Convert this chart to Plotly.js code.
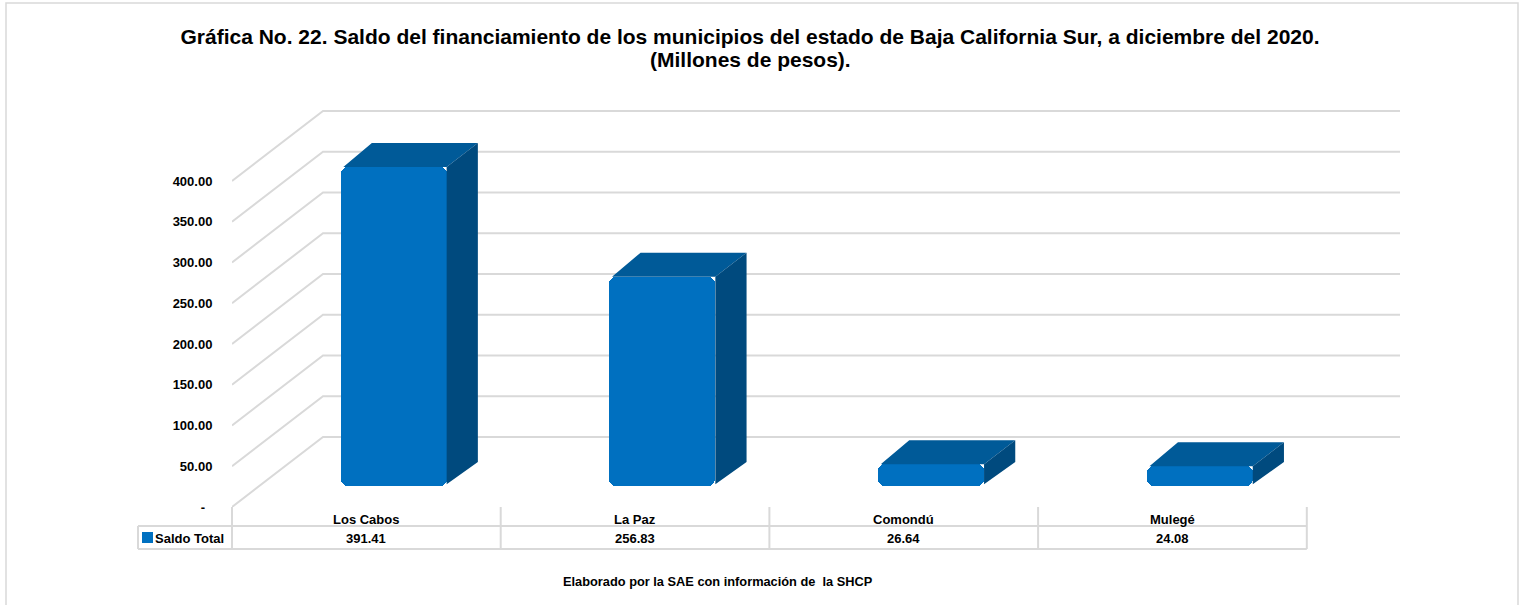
<!DOCTYPE html>
<html><head><meta charset="utf-8">
<script src="https://cdn.plot.ly/plotly-3.0.1.min.js"></script>
<style>html,body{margin:0;padding:0;background:#fff;} #chart{width:1525px;height:605px;}</style>
</head><body><div id="chart"></div>
<script>
// ---- data ----
const categories = ['Los Cabos', 'La Paz', 'Comondú', 'Mulegé'];
const saldoTotal = [391.41, 256.83, 26.64, 24.08];
const seriesName = 'Saldo Total';
const yTickVals = [0, 50, 100, 150, 200, 250, 300, 350, 400];
const yTickText = ['-\u00a0\u00a0', '50.00', '100.00', '150.00', '200.00', '250.00', '300.00', '350.00', '400.00'];
const titleLines = ['Gráfica No. 22. Saldo del financiamiento de los municipios del estado de Baja California Sur, a diciembre del 2020.', '(Millones de pesos).'];
const sourceNote = 'Elaborado por la SAE con información de  la SHCP';

// ---- layout geometry ----
const W = 1525, H = 605;
const M = {l: 232, r: 125, t: 100, b: 98};
const plotW = W - M.l - M.r, plotH = H - M.t - M.b;
const pxPerCat = 268.7, pxPerVal = 0.815;
const xRange = [-0.5, -0.5 + plotW / pxPerCat];
const yRange = [0, plotH / pxPerVal];
const depthDX = 91 / pxPerCat, depthDY = 70 / pxPerVal;
const barFront = 0.3, barBack = 0.643, barWidth = 106 / pxPerCat;
const px2paperX = px => (px - M.l) / plotW;
const px2paperY = py => (M.t + plotH - py) / plotH;
const catToPaper = x => (x - xRange[0]) / (xRange[1] - xRange[0]);

const FONT = 'Liberation Sans, Arial, Helvetica, sans-serif';
const GRID = '#d9d9d9';
const FRONT = '#0070C0', TOPC = '#005A98', SIDE = '#004A7E', HILITE = '#1A86D6';

// ---- bars (front faces, top faces, side faces) ----
const barX = [], barBase = [];
const topX = [], topY = [], sideX = [], sideY = [];
const ddx = (barBack - barFront) * depthDX, ddy = (barBack - barFront) * depthDY;
categories.forEach((c, i) => {
  const cx = i + barFront * depthDX;
  const x0 = cx - barWidth / 2, x1 = cx + barWidth / 2;
  const base = barFront * depthDY;
  const top = base + saldoTotal[i];
  barX.push(cx); barBase.push(base);
  topX.push(x0 + 0.01, x1, x1 + ddx, x0 + ddx, x0 + 0.01, null);
  topY.push(top, top, top + ddy, top + ddy, top, null);
  sideX.push(x1, x1 + ddx, x1 + ddx, x1, x1, null);
  sideY.push(base + 2, base + ddy, top + ddy, top, base + 2, null);
});

const traces = [
  {type: 'scatter', x: topX, y: topY, mode: 'lines', fill: 'toself', fillcolor: TOPC,
   line: {width: 0, color: TOPC}, hoverinfo: 'skip', showlegend: false},
  {type: 'scatter', x: sideX, y: sideY, mode: 'lines', fill: 'toself', fillcolor: SIDE,
   line: {width: 0, color: SIDE}, hoverinfo: 'skip', showlegend: false},
  {type: 'bar', name: seriesName, x: barX, y: saldoTotal, base: barBase, width: barWidth,
   marker: {color: FRONT, cornerradius: 7, line: {width: 0}},
   text: categories, hovertemplate: '%{text}: %{y:.2f}<extra></extra>', textposition: 'none',
   showlegend: false}
];

// ---- shapes: 3D gridlines, table, frame ----
const shapes = [];
yTickVals.forEach(v => {
  shapes.push({type: 'path', xref: 'x', yref: 'y', layer: 'below',
    path: `M ${xRange[0]},${v} L ${xRange[0] + depthDX},${v + depthDY} L ${xRange[1]},${v + depthDY}`,
    line: {color: GRID, width: 2}});
});
const rowTop = 507, rowMid = 526, rowBot = 549, tableLeft = 138;
for (let i = 0; i <= categories.length; i++) {
  const xp = catToPaper(i - 0.5);
  shapes.push({type: 'line', xref: 'paper', yref: 'paper', x0: xp, x1: xp,
    y0: px2paperY(rowTop), y1: px2paperY(rowBot), line: {color: GRID, width: 2}});
}
const tableRight = catToPaper(categories.length - 0.5);
[rowMid, rowBot].forEach(py => shapes.push({type: 'line', xref: 'paper', yref: 'paper',
  x0: px2paperX(tableLeft), x1: tableRight, y0: px2paperY(py), y1: px2paperY(py),
  line: {color: GRID, width: 2}}));
shapes.push({type: 'line', xref: 'paper', yref: 'paper', x0: px2paperX(tableLeft), x1: px2paperX(tableLeft),
  y0: px2paperY(rowMid), y1: px2paperY(rowBot), line: {color: GRID, width: 2}});
// legend key
shapes.push({type: 'rect', xref: 'paper', yref: 'paper', x0: px2paperX(142), x1: px2paperX(153),
  y0: px2paperY(532), y1: px2paperY(543), fillcolor: FRONT, line: {width: 0}});
// outer frame
shapes.push({type: 'rect', xref: 'paper', yref: 'paper', x0: px2paperX(6), x1: px2paperX(1518),
  y0: px2paperY(3), y1: px2paperY(640), fillcolor: 'rgba(0,0,0,0)', line: {color: GRID, width: 1.5}, layer: 'below'});

// ---- annotations: title 2nd line, table text and source note ----
const annotations = [];
annotations.push({xref: 'paper', yref: 'paper', x: px2paperX(750), y: px2paperY(59), text: titleLines[1],
  showarrow: false, xanchor: 'center', yanchor: 'middle', font: {family: FONT, size: 21, weight: 'bold', color: '#000'}});
categories.forEach((c, i) => {
  annotations.push({xref: 'x', yref: 'paper', x: i, y: px2paperY(519), text: c, showarrow: false,
    xanchor: 'center', yanchor: 'middle', font: {family: FONT, size: 13, weight: 'bold', color: '#000'}});
  annotations.push({xref: 'x', yref: 'paper', x: i, y: px2paperY(538), text: saldoTotal[i].toFixed(2), showarrow: false,
    xanchor: 'center', yanchor: 'middle', font: {family: FONT, size: 13, weight: 'bold', color: '#000'}});
});
annotations.push({xref: 'paper', yref: 'paper', x: px2paperX(153), y: px2paperY(538), text: seriesName,
  showarrow: false, xanchor: 'left', yanchor: 'middle', font: {family: FONT, size: 13, weight: 'bold', color: '#000'}});
annotations.push({xref: 'paper', yref: 'paper', x: px2paperX(718), y: px2paperY(581), text: sourceNote,
  showarrow: false, xanchor: 'center', yanchor: 'middle', font: {family: FONT, size: 12.8, weight: 'bold', color: '#000'}});

const layout = {
  width: W, height: H, autosize: false,
  margin: M,
  paper_bgcolor: '#fff', plot_bgcolor: 'rgba(0,0,0,0)',
  title: {text: titleLines[0], x: 750 / W, xanchor: 'center', xref: 'container',
    y: 1 - 37 / H, yanchor: 'middle', yref: 'container',
    font: {family: FONT, size: 21, weight: 'bold', color: '#000'}},
  xaxis: {range: xRange, showgrid: false, zeroline: false, showline: false, showticklabels: false,
    ticks: '', fixedrange: true, automargin: false},
  yaxis: {range: yRange, showgrid: false, zeroline: false, showline: false,
    tickmode: 'array', tickvals: yTickVals, ticktext: yTickText,
    ticks: 'outside', ticklen: 16, tickcolor: 'rgba(0,0,0,0)',
    tickfont: {family: FONT, size: 13, weight: 'bold', color: '#000'},
    fixedrange: true, automargin: false},
  shapes: shapes, annotations: annotations,
  showlegend: false, bargap: 0, hovermode: 'closest'
};

Plotly.newPlot('chart', traces, layout, {displayModeBar: false, staticPlot: false});
</script>
</body></html>
